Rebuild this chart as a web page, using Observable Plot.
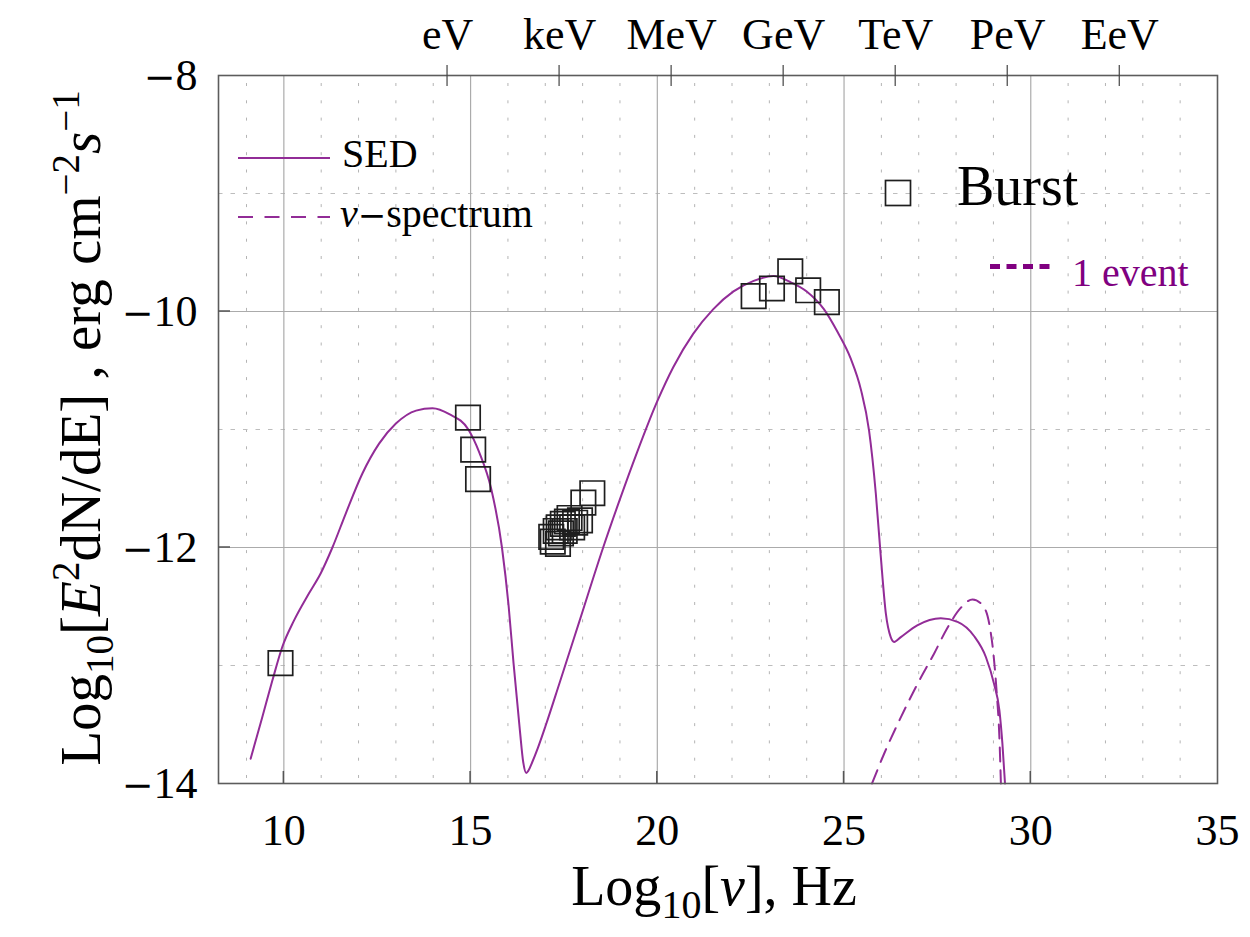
<!DOCTYPE html>
<html><head><meta charset="utf-8">
<script src="https://cdn.jsdelivr.net/npm/d3@7"></script>
<script src="https://cdn.jsdelivr.net/npm/@observablehq/plot@0.6"></script>
<style>body{margin:0;background:#fff} svg{display:block}</style>
</head><body><div id="chart"></div>
<script>
// SED model curve (log10 nu [Hz], log10 E^2 dN/dE)
const sedX = [9.11, 9.42, 9.69, 9.955, 10.27, 10.67, 10.985, 11.30, 11.66, 12.10, 12.55, 13.00, 13.54, 13.98, 14.43, 14.94, 15.24, 15.55, 15.84, 16.02, 16.15, 16.32, 16.41, 16.49, 16.55, 16.65, 16.80, 17.02, 17.38, 17.92, 18.55, 19.00, 19.45, 20.00, 20.43, 20.96, 21.50, 22.04, 22.58, 23.11, 23.56, 24.00, 24.46, 24.82, 25.18, 25.45, 25.67, 25.85, 25.98, 26.12, 26.25, 26.34, 26.52, 26.96, 27.59, 28.04, 28.48, 28.80, 29.02, 29.16, 29.24, 29.31];
const sedY = [-13.79, -13.44, -13.13, -12.845, -12.62, -12.39, -12.22, -12.00, -11.71, -11.375, -11.12, -10.95, -10.84, -10.82, -10.87, -11.00, -11.20, -11.50, -12.00, -12.50, -12.98, -13.55, -13.82, -13.91, -13.89, -13.82, -13.70, -13.50, -13.15, -12.62, -12.00, -11.59, -11.20, -10.76, -10.47, -10.19, -9.98, -9.83, -9.74, -9.70, -9.75, -9.83, -9.98, -10.17, -10.40, -10.66, -11.01, -11.54, -12.06, -12.56, -12.76, -12.80, -12.76, -12.66, -12.60, -12.63, -12.75, -12.93, -13.16, -13.38, -13.66, -14.0];
// neutrino spectrum
const nuX = [25.75, 26.07, 26.52, 26.96, 27.41, 27.77, 28.13, 28.44, 28.71, 28.89, 29.00, 29.09, 29.16, 29.20];
const nuY = [-14.0, -13.75, -13.44, -13.16, -12.90, -12.68, -12.51, -12.44, -12.49, -12.65, -12.90, -13.24, -13.61, -14.0];
// burst data points
const burstX = [9.91, 14.93, 15.07, 15.20, 17.16, 17.20, 17.34, 17.28, 17.36, 17.42, 17.47, 17.52, 17.58, 17.65, 17.72, 17.80, 17.93, 18.02, 18.26, 22.58, 23.07, 23.56, 24.04, 24.54];
const burstY = [-12.98, -10.90, -11.17, -11.42, -11.91, -11.95, -11.97, -11.86, -11.83, -11.88, -11.80, -11.86, -11.78, -11.75, -11.83, -11.79, -11.77, -11.62, -11.54, -9.87, -9.805, -9.66, -9.82, -9.92];
// axes
const xTicks = [10, 15, 20, 25, 30, 35];
const yTicks = [-8, -10, -12, -14];
const yTickLabels = ["−8", "−10", "−12", "−14"];
const energyPos = [14.383, 17.383, 20.383, 23.383, 26.383, 29.383, 32.383];
const energyLabels = ["eV", "keV", "MeV", "GeV", "TeV", "PeV", "EeV"];
const xMajorGrid = [10, 15, 20, 25, 30];
const xMinorGrid = [9, 11, 12, 13, 14, 16, 17, 18, 19, 21, 22, 23, 24, 26, 27, 28, 29, 31, 32, 33, 34];
const yMajorGrid = [-10, -12];
const yMinorGrid = [-9, -11, -13];

const sed = sedX.map((x, i) => ({x, y: sedY[i]}));
const nu = nuX.map((x, i) => ({x, y: nuY[i]}));
const burst = burstX.map((x, i) => ({x, y: burstY[i]}));

const purple = "#922c97";
const FONT = "'Liberation Serif', 'Times New Roman', serif";
const MINUS_FONT = "'DejaVu Serif', serif";
const L = 218, R = 1217, T = 75, B = 783;

const chart = Plot.plot({
  width: 1250, height: 937,
  marginLeft: L, marginRight: 1250 - R, marginTop: T, marginBottom: 937 - B,
  x: {domain: [8.25, 35], label: null},
  y: {domain: [-14, -8], label: null},
  style: {fontFamily: FONT, background: "white", color: "black"},
  marks: [
    Plot.ruleX(xMinorGrid, {stroke: "#b4b4b4", strokeWidth: 1, strokeDasharray: "3,14.3", strokeDashoffset: -8}),
    Plot.ruleY(yMinorGrid, {stroke: "#bdbdbd", strokeWidth: 1, strokeDasharray: "4.5,8"}),
    Plot.ruleX(xMajorGrid, {stroke: "#ababab", strokeWidth: 1.2}),
    Plot.ruleY(yMajorGrid, {stroke: "#ababab", strokeWidth: 1.2}),
    Plot.line(nu, {x: "x", y: "y", stroke: purple, strokeWidth: 2, strokeDasharray: "14,9", curve: "monotone-x"}),
    Plot.line(sed, {x: "x", y: "y", stroke: purple, strokeWidth: 2, curve: "monotone-x"}),
    Plot.dot(burst, {x: "x", y: "y", symbol: "square", r: 13.8, stroke: "#1e1e1e", strokeWidth: 1.7, fill: "none"}),
    Plot.frame({stroke: "#5c5c5c", strokeWidth: 1.6}),
    Plot.axisX(xTicks, {anchor: "bottom", tickSize: 0, tickPadding: 30, fontSize: 44, label: null}),
    Plot.axisX(energyPos, {anchor: "top", tickSize: 0, tickPadding: 27, fontSize: 44, label: null,
      tickFormat: d => energyLabels[energyPos.indexOf(d)]}),
    Plot.axisY(yTicks, {anchor: "left", tickSize: 0, tickPadding: 21, fontSize: 44, label: null,
      tickFormat: d => yTickLabels[yTicks.indexOf(d)]})
  ]
});
document.getElementById("chart").appendChild(chart);

const sx = chart.scale("x"), sy = chart.scale("y");
const svg = d3.select(chart);

// render the minus sign of y tick labels with a longer glyph (as in the reference)
svg.selectAll("g[aria-label='y-axis tick label'] text").each(function () {
  const s = this.textContent;
  if (s.startsWith("−")) {
    const t = d3.select(this);
    t.text(null);
    t.append("tspan").attr("font-family", MINUS_FONT).attr("font-size", 38).text("−");
    t.append("tspan").text(s.slice(1));
  }
});

const deco = svg.append("g");
// inward ticks on bottom and left frame, crossing ticks on top
xMajorGrid.forEach(v => deco.append("line").attr("x1", sx.apply(v)).attr("x2", sx.apply(v))
  .attr("y1", B).attr("y2", B - 12).attr("stroke", "#555").attr("stroke-width", 1.5));
yMajorGrid.forEach(v => deco.append("line").attr("y1", sy.apply(v)).attr("y2", sy.apply(v))
  .attr("x1", L).attr("x2", L + 12).attr("stroke", "#555").attr("stroke-width", 1.5));
energyPos.forEach(v => deco.append("line").attr("x1", sx.apply(v)).attr("x2", sx.apply(v))
  .attr("y1", T - 10).attr("y2", T + 11).attr("stroke", "#444").attr("stroke-width", 1.2));

// axis titles
const xt = svg.append("text").attr("x", 714).attr("y", 905).attr("text-anchor", "middle")
  .attr("font-family", FONT).attr("font-size", 56).attr("fill", "black");
xt.append("tspan").text("Log");
xt.append("tspan").attr("font-size", 40).attr("dy", 13).text("10");
xt.append("tspan").attr("dy", -13).text("[");
xt.append("tspan").attr("font-style", "italic").text("ν");
xt.append("tspan").text("], Hz");

const yt = svg.append("text").attr("transform", "translate(100,428) rotate(-90)").attr("text-anchor", "middle")
  .attr("font-family", FONT).attr("font-size", 57).attr("fill", "black");
yt.append("tspan").text("Log");
yt.append("tspan").attr("font-size", 39).attr("dy", 13).text("10");
yt.append("tspan").attr("dy", -13).text("[");
yt.append("tspan").attr("font-style", "italic").text("E");
yt.append("tspan").attr("font-size", 39).attr("dy", -21).text("2");
yt.append("tspan").attr("dy", 21).text("dN/dE] , erg cm");
yt.append("tspan").attr("font-size", 39).attr("dy", -21).text("−2");
yt.append("tspan").attr("dy", 21).attr("font-style", "italic").text("s");
yt.append("tspan").attr("font-size", 39).attr("dy", -21).text("−1");

// legend
const lg = svg.append("g").attr("font-family", FONT).attr("text-anchor", "start");
lg.append("line").attr("x1", 238).attr("x2", 330).attr("y1", 158).attr("y2", 158).attr("stroke", purple).attr("stroke-width", 2);
lg.append("text").attr("x", 342).attr("y", 167).attr("font-size", 40).text("SED");
lg.append("line").attr("x1", 238).attr("x2", 330).attr("y1", 217).attr("y2", 217).attr("stroke", purple).attr("stroke-width", 2).attr("stroke-dasharray", "15,11.5");
const ln = lg.append("text").attr("x", 340).attr("y", 227).attr("font-size", 40);
ln.append("tspan").attr("font-style", "italic").text("ν");
ln.append("tspan").attr("font-family", MINUS_FONT).attr("font-size", 34).text("−");
ln.append("tspan").text("spectrum");
lg.append("rect").attr("x", 885.5).attr("y", 180.5).attr("width", 25).attr("height", 25).attr("fill", "none").attr("stroke", "#1e1e1e").attr("stroke-width", 1.7);
lg.append("text").attr("x", 957).attr("y", 205).attr("font-size", 56).text("Burst");
lg.append("line").attr("x1", 990).attr("x2", 1053).attr("y1", 266.5).attr("y2", 266.5).attr("stroke", "#800080").attr("stroke-width", 5).attr("stroke-dasharray", "10,6.5");
lg.append("text").attr("x", 1072).attr("y", 286).attr("font-size", 40).attr("fill", "#800080").text("1 event");
</script>
</body></html>
